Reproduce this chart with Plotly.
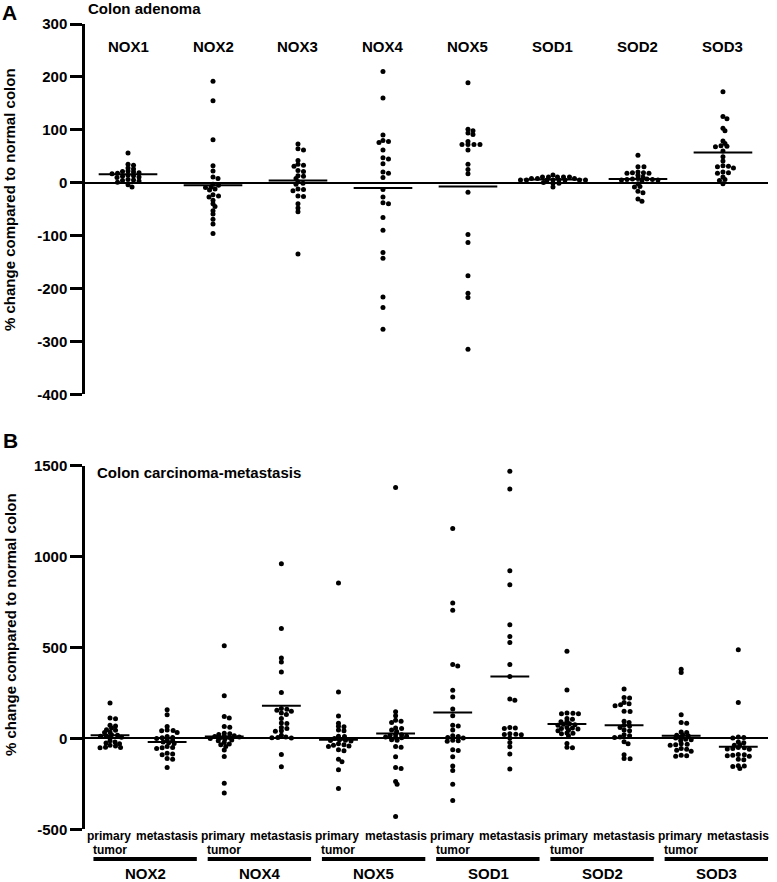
import plotly.graph_objects as go

# ---------------- data ----------------
genes_a = ["NOX1", "NOX2", "NOX3", "NOX4", "NOX5", "SOD1", "SOD2", "SOD3"]
nox1_a = [56, 35, 33, 28, 26, 22, 21, 20, 19, 18, 17, 14, 13, 12, 11, 10, 6, 5, 4, 3, 1, -4, -8]
nox2_a = [192, 155, 81, 32, 22, 11, 8, -3, -5, -8, -9, -12, -14, -23, -25, -27, -33, -40, -45, -53, -59, -69, -78, -96]
nox3_a = [73, 64, 62, 42, 35, 33, 31, 23, 21, 13, 12, 8, 2, -1, -3, -12, -13, -15, -25, -26, -40, -48, -55, -135]
nox4_a = [210, 160, 90, 80, 78, 76, 62, 47, 45, 36, 20, 18, 10, -13, -27, -38, -40, -66, -90, -132, -143, -216, -236, -277]
nox5_a = [189, 101, 98, 94, 91, 78, 72, 72, 72, 72, 62, 35, 25, 17, -18, -98, -113, -176, -209, -217, -315]
sod1_a = [14.5, 11, 11, 11, 11, 11, 8, 8, 8, 5, 5, 5, 5, 5, 5, 5, 5, 0.6, -1, -1, -8]
sod2_a = [52, 30, 30, 20, 19, 19, 18, 18, 14, 11, 8, 7, 7, 6, 6, 5, 5, 4, -2, -7, -8, -16, -19, -31, -35]
sod3_a = [172, 125, 121, 103, 98, 79, 74, 70, 69, 68, 60, 49, 41, 32, 31, 30, 28, 20, 19, 18, 11, 6, 4, -2]
means_a = [16, -5, 4, -10, -7, 6, 7, 57]
ticks_a = [300, 200, 100, 0, -100, -200, -300, -400]
ticklabels_a = ["300", "200", "100", "0", "-100", "-200", "-300", "-400"]

genes_b = ["NOX2", "NOX4", "NOX5", "SOD1", "SOD2", "SOD3"]
groups_b = ["primary tumor", "metastasis"]
nox2_prim = [195, 112, 108, 72, 68, 57, 48, 45, 35, 32, 20, 18, 15, 12, 6, 4, -13, -20, -25, -30, -38, -42, -48, -50, -52]
nox2_met = [158, 130, 66, 46, 44, 42, 33, 10, 5, 3, 0, -9, -12, -20, -24, -28, -45, -50, -52, -55, -82, -86, -90, -110, -114, -160]
nox4_prim = [510, 235, 121, 112, 66, 62, 28, 25, 22, 15, 12, 10, 8, 5, 2, 0, -5, -9, -13, -22, -31, -35, -44, -64, -99, -247, -300]
nox4_met = [960, 605, 442, 420, 365, 253, 165, 160, 155, 150, 140, 132, 110, 85, 82, 60, 55, 42, 40, 18, 8, 5, 3, 2, -88, -156]
nox5_prim = [855, 255, 123, 84, 67, 64, 46, 42, 12, 10, 0, -8, -10, -12, -14, -30, -35, -38, -42, -45, -62, -68, -115, -128, -172, -275]
nox5_met = [1380, 147, 125, 100, 95, 88, 57, 55, 46, 38, 22, 20, 18, 12, 8, 5, 3, -7, -10, -45, -48, -101, -160, -165, -237, -252, -430]
sod1_prim = [1155, 745, 705, 406, 398, 265, 228, 162, 125, 72, 68, 46, 14, 10, 5, 2, -10, -13, -16, -62, -66, -101, -152, -176, -252, -342]
sod1_met = [1470, 1372, 922, 845, 625, 560, 527, 406, 340, 217, 210, 60, 57, 55, 25, 23, 22, 20, 2, -22, -46, -86, -168]
sod2_prim = [479, 266, 140, 138, 136, 135, 110, 105, 94, 92, 80, 78, 75, 72, 60, 57, 55, 52, 45, 42, 30, 28, 26, 15, -28, -48, -52]
sod2_met = [272, 225, 222, 198, 190, 185, 180, 150, 148, 95, 88, 72, 68, 60, 46, 42, 20, 15, 8, 5, -18, -30, -90, -110, -112]
sod3_prim = [380, 362, 130, 88, 84, 35, 32, 20, 18, 15, 5, 2, -5, -8, -12, -30, -32, -35, -38, -55, -60, -65, -70, -92, -95, -98]
sod3_met = [488, 198, 8, 5, 2, -20, -24, -35, -38, -50, -52, -55, -58, -60, -88, -90, -92, -95, -98, -115, -118, -150, -152, -155, -165]
means_b = [18, -20, 11, 180, -7, 27, 143, 340, 79, 73, 15, -46]
ticks_b = [1500, 1000, 500, 0, -500]
ticklabels_b = ["1500", "1000", "500", "0", "-500"]

series_a = [nox1_a, nox2_a, nox3_a, nox4_a, nox5_a, sod1_a, sod2_a, sod3_a]
series_b = [nox2_prim, nox2_met, nox4_prim, nox4_met, nox5_prim, nox5_met,
            sod1_prim, sod1_met, sod2_prim, sod2_met, sod3_prim, sod3_met]

# ---------------- layout constants ----------------
W, H = 777, 882
FONT = "Liberation Sans, Arial, sans-serif"
xdom = [85 / W, 768 / W]
a_top, a_bot = 24, 394.3
b_top, b_bot = 465.7, 829.3
a_yrange = [-400, 300]
b_yrange = [-500, 1500]
a_xrange = [-0.506, 7.53]
b_xrange = [-0.438, 11.52]


def px_scales(xr, yr, top, bot):
    plot_w = (xdom[1] - xdom[0]) * W
    return plot_w / (xr[1] - xr[0]), (bot - top) / (yr[1] - yr[0])


def swarm(values, center, sx, sy, grid=0.5, dx_min=5.6, dy_min=2.8):
    """Prism-like scatter: points closer than a row height are spread sideways."""
    order = sorted(range(len(values)), key=lambda i: -values[i])
    placed = []
    xs = [0.0] * len(values)
    cands = [0]
    for k in range(1, 200):
        cands += [k, -k]
    for i in order:
        y = values[i] * sy
        xoff = 0
        for k in cands:
            x = k * grid
            ok = all(((x - px) / dx_min) ** 2 + ((y - py) / dy_min) ** 2 >= 1
                     for px, py in placed)
            if ok:
                xoff = x
                break
        placed.append((xoff, y))
        xs[i] = center + xoff / sx
    return xs


fig = go.Figure()

# ---- panel A ----
sxa, sya = px_scales(a_xrange, a_yrange, a_top, a_bot)
for i, vals in enumerate(series_a):
    fig.add_trace(go.Scatter(x=swarm(vals, i, sxa, sya), y=vals, mode="markers",
                             marker=dict(size=5, color="black"),
                             xaxis="x", yaxis="y", hoverinfo="y"))
mx, my = [], []
for i, m in enumerate(means_a):
    mx += [i - 0.345, i + 0.345, None]
    my += [m, m, None]
fig.add_trace(go.Scatter(x=mx, y=my, mode="lines", line=dict(color="black", width=2),
                         xaxis="x", yaxis="y", hoverinfo="skip"))

# ---- panel B ----
sxb, syb = px_scales(b_xrange, b_yrange, b_top, b_bot)
for i, vals in enumerate(series_b):
    fig.add_trace(go.Scatter(x=swarm(vals, i, sxb, syb), y=vals, mode="markers",
                             marker=dict(size=5, color="black"),
                             xaxis="x2", yaxis="y2", hoverinfo="y"))
mx, my = [], []
for i, m in enumerate(means_b):
    mx += [i - 0.34, i + 0.34, None]
    my += [m, m, None]
fig.add_trace(go.Scatter(x=mx, y=my, mode="lines", line=dict(color="black", width=2),
                         xaxis="x2", yaxis="y2", hoverinfo="skip"))

yax_common = dict(showgrid=False, showline=True, linecolor="black", linewidth=2.5,
                  ticks="outside", ticklen=12, tickwidth=2.5, tickcolor="black",
                  tickfont=dict(family=FONT, size=15, color="black", weight="bold"),
                  zeroline=True, zerolinecolor="black", zerolinewidth=2,
                  fixedrange=True, automargin=False)

fig.update_layout(
    template="none",
    width=W, height=H, margin=dict(l=0, r=0, t=0, b=0, pad=0, autoexpand=False),
    paper_bgcolor="white", plot_bgcolor="white", showlegend=False,
    xaxis=dict(domain=xdom, range=a_xrange, visible=False, fixedrange=True, automargin=False),
    yaxis=dict(domain=[1 - a_bot / H, 1 - a_top / H], range=a_yrange,
               tickvals=ticks_a, ticktext=ticklabels_a, **yax_common),
    xaxis2=dict(domain=xdom, range=b_xrange, visible=False, fixedrange=True, anchor="y2",
                automargin=False),
    yaxis2=dict(domain=[1 - b_bot / H, 1 - b_top / H], range=b_yrange, anchor="x2",
                tickvals=ticks_b, ticktext=ticklabels_b, **yax_common),
)


def font(size):
    return dict(family=FONT, size=size, color="black", weight="bold")


ann = []
# panel letters and titles
ann.append(dict(text="A", x=9.5 / W, y=1 - 12.5 / H, xref="paper", yref="paper",
                showarrow=False, font=font(21), xanchor="center", yanchor="middle"))
ann.append(dict(text="Colon adenoma", x=86 / W, y=1 - 8.5 / H, xref="paper", yref="paper",
                showarrow=False, font=font(15), xanchor="left", yanchor="middle"))
ann.append(dict(text="B", x=10 / W, y=1 - 440 / H, xref="paper", yref="paper",
                showarrow=False, font=font(21), xanchor="center", yanchor="middle"))
ann.append(dict(text="Colon carcinoma-metastasis", x=95 / W, y=1 - 472 / H, xref="paper",
                yref="paper", showarrow=False, font=font(15), xanchor="left", yanchor="middle"))
# y titles
for yc in (200, 625):
    ann.append(dict(text="% change compared to normal colon", x=10 / W, y=1 - yc / H,
                    xref="paper", yref="paper", showarrow=False, textangle=-90,
                    font=font(15), xanchor="center", yanchor="middle"))
# gene names panel A
for i, g in enumerate(genes_a):
    ann.append(dict(text=g, x=i, y=1 - 47 / H, xref="x", yref="paper", showarrow=False,
                    font=font(15), xanchor="center", yanchor="middle"))
# group labels panel B
for j, g in enumerate(genes_b):
    p, m = 2 * j, 2 * j + 1
    ann.append(dict(text="primary", x=p - 0.02, y=1 - 836 / H, xref="x2", yref="paper",
                    showarrow=False, font=font(12), xanchor="center", yanchor="middle"))
    ann.append(dict(text="tumor", x=p, y=1 - 849.5 / H, xref="x2", yref="paper",
                    showarrow=False, font=font(12), xanchor="center", yanchor="middle"))
    ann.append(dict(text=groups_b[1], x=m, y=1 - 836 / H, xref="x2", yref="paper",
                    showarrow=False, font=font(12), xanchor="center", yanchor="middle"))
    ann.append(dict(text=g, x=p + 0.62, y=1 - 873.5 / H, xref="x2", yref="paper",
                    showarrow=False, font=font(15), xanchor="center", yanchor="middle"))
fig.update_layout(annotations=ann)

shapes = []
for j in range(len(genes_b)):
    p = 2 * j
    shapes.append(dict(type="line", xref="x2", yref="paper", x0=p - 0.29, x1=p + 1.52,
                       y0=1 - 859 / H, y1=1 - 859 / H, line=dict(color="black", width=4)))
fig.update_layout(shapes=shapes)

# remove the browser's default 8px page margin so the figure sits at the window origin
fig.write_html("out.html", config={"displayModeBar": False},
               post_script="document.body.style.margin='0px';")
